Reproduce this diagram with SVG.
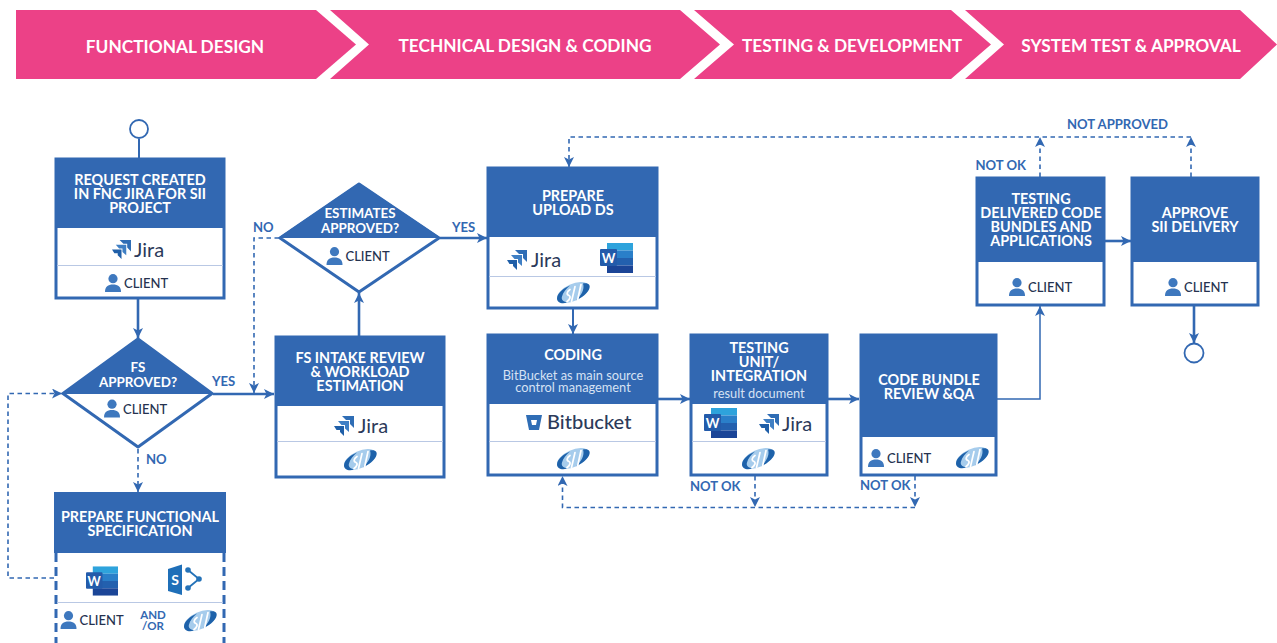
<svg xmlns="http://www.w3.org/2000/svg" xmlns:xlink="http://www.w3.org/1999/xlink" width="1277" height="643" viewBox="0 0 1277 643">
<style>
text{font-family:Lato,"Noto Sans","Liberation Sans",sans-serif}
.banner{fill:#EC4187}
.bt{fill:#fff;font-weight:700;font-size:17.300px;text-anchor:middle}
.h{fill:#3268B2}
.box{fill:#fff;stroke:#3268B2;stroke-width:3}
.div{stroke:#B9C8E4;stroke-width:1.2;fill:none}
.t{fill:#fff;font-weight:700;font-size:14.400px;text-anchor:middle}
.d{font-size:13.400px}
.s{fill:#D6E2F4;font-weight:400;font-size:12.800px;text-anchor:middle}
.c{fill:#25324F;font-weight:500;font-size:13px}
.l{fill:#3268B2;font-weight:700;font-size:13.100px}
.a{font-size:11.500px;text-anchor:middle}
.logo{fill:#2C3A5A;font-weight:400;font-size:20px}
.con{fill:none;stroke:#3268B2;stroke-width:2}
.dash{stroke-width:1.6;stroke-dasharray:4.5 3.5}
.thick{stroke-width:2.6}
.thin{stroke-width:1.500}
.side{stroke-width:3;stroke-dasharray:9 5}
.term{fill:#fff;stroke:#3268B2;stroke-width:1.8}
</style>
<defs>
<marker id="arr" markerUnits="userSpaceOnUse" markerWidth="12" markerHeight="12" refX="10" refY="5" orient="auto"><path d="M0 0L10 5L0 10L2.5 5Z" fill="#3268B2"/></marker>
<symbol id="person" viewBox="0 0 16 18" overflow="visible"><circle cx="8" cy="4.7" r="4.6" fill="#3E78BE"/><path d="M0 18C0 12.500 3 10.500 8 10.500S16 12.500 16 18Z" fill="#3E78BE"/></symbol>
<symbol id="jiram" viewBox="0 0 20 20" overflow="visible"><path d="M8 0H20V12L16 8V4H12Z" fill="#2F6DB5"/><path d="M4 5H15V16L11 12.500V9H7.500Z" fill="#3F7FC4"/><path d="M0 10H10V20L6 16V14H2.500Z" fill="#1F5FA8"/></symbol>
<symbol id="word" viewBox="0 0 33 30" overflow="visible"><rect x="7" y="0" width="26" height="7.500" fill="#2EA3DC"/><rect x="7" y="7.500" width="26" height="7.500" fill="#2A7FC9"/><rect x="7" y="15" width="26" height="7.500" fill="#2360AE"/><rect x="7" y="22.500" width="26" height="7.500" fill="#1B4597"/><rect x="0" y="6" width="17" height="17" rx="1" fill="#235BAA"/><text x="8.500" y="20" font-size="13" font-weight="700" fill="#fff" text-anchor="middle">W</text></symbol>
<symbol id="sii" viewBox="0 0 34 22" overflow="visible"><ellipse cx="17" cy="11" rx="17" ry="8.500" transform="rotate(-24 17 11)" fill="#A6CCEC"/><path d="M14 4C7 7 1 12 1 17C1 21 6 23 11 21C7 20 5 18 6 15C7 11 10 7 14 4Z" fill="#1E62AA"/><path d="M27 2C33 1 35 4 33 8C31 12 26 16 20 19C25 14 29 8 27 2Z" fill="#1E62AA"/><path d="M14 8C11 10 10 13 13 14C15 15 14 18 11 20M19 5L15.500 20M25 3L21.500 19" fill="none" stroke="#fff" stroke-width="1.700" stroke-linecap="round"/></symbol>
<symbol id="client" viewBox="0 0 64 18" overflow="visible"><use xlink:href="#person" href="#person" width="16" height="18"/><text class="c" x="19" y="14">CLIENT</text></symbol>
</defs>

<g id="phases">
<path class="banner" d="M16 10H316L356 44.500L316 79H16Z"/>
<path class="banner" d="M330 10H680L720 44.500L680 79H330L369 44.500Z"/>
<path class="banner" d="M694 10H951L991 44.500L951 79H694L734 44.500Z"/>
<path class="banner" d="M965 10H1240L1277 44.500L1240 79H965L1004 44.500Z"/>
<text class="bt" x="175" y="53">FUNCTIONAL DESIGN</text>
<text class="bt" x="525" y="52">TECHNICAL DESIGN &amp; CODING</text>
<text class="bt" x="852" y="52">TESTING &amp; DEVELOPMENT</text>
<text class="bt" x="1131" y="52">SYSTEM TEST &amp; APPROVAL</text>
</g>

<g id="connectors">
<path class="con" d="M139 139V158"/>
<path class="con thick" d="M138 299V338" marker-end="url(#arr)"/>
<path class="con thick" d="M213 394H274" marker-end="url(#arr)"/>
<path class="con dash" d="M138 449V492" marker-end="url(#arr)"/>
<path class="con dash" d="M54 578H8V393.500H62" marker-end="url(#arr)"/>
<path class="con thick" d="M359 336V293" marker-end="url(#arr)"/>
<path class="con dash" d="M279 238H254V393" marker-end="url(#arr)"/>
<path class="con thick" d="M440 238H487" marker-end="url(#arr)"/>
<path class="con" d="M573 309V334" marker-end="url(#arr)"/>
<path class="con thick" d="M658 399H690" marker-end="url(#arr)"/>
<path class="con thick" d="M828 399H859" marker-end="url(#arr)"/>
<path class="con thin" d="M997 399H1040V306" marker-end="url(#arr)"/>
<path class="con thick" d="M1105 241H1131" marker-end="url(#arr)"/>
<path class="con thick" d="M1194 306V343" marker-end="url(#arr)"/>
<path class="con dash" d="M755 476V507" marker-end="url(#arr)"/>
<path class="con dash" d="M915 476V507" marker-end="url(#arr)"/>
<path class="con dash" d="M915 507.500H562.500V476" marker-end="url(#arr)"/>
<path class="con dash" d="M1040 177V137" marker-end="url(#arr)"/>
<path class="con dash" d="M1191 177V137" marker-end="url(#arr)"/>
<path class="con dash" d="M1191 137H569V167" marker-end="url(#arr)"/>
<text class="l" x="212" y="386">YES</text>
<text class="l" x="146" y="464">NO</text>
<text class="l" x="253" y="232">NO</text>
<text class="l" x="452" y="232">YES</text>
<text class="l" x="690" y="491">NOT OK</text>
<text class="l" x="860" y="490">NOT OK</text>
<text class="l" x="975.500" y="170">NOT OK</text>
<text class="l" x="1067" y="128.500">NOT APPROVED</text>
</g>

<g id="start"><circle class="term" cx="139" cy="129" r="9"/></g>
<g id="end"><circle class="term" cx="1194" cy="353" r="9.500"/></g>

<g id="request">
<rect class="box" x="56" y="159" width="168" height="139"/>
<rect class="h" x="55" y="158" width="170" height="70"/>
<path class="div" d="M57 265.500H223"/>
<text class="t" y="185"><tspan x="140">REQUEST CREATED</tspan><tspan x="140" dy="14">IN FNC JIRA FOR SII</tspan><tspan x="140" dy="14">PROJECT</tspan></text>
<use href="#jiram" x="112" y="240" width="19" height="19"/>
<text class="logo" x="134" y="257">Jira</text>
<use href="#client" x="105" y="274" width="64" height="18"/>
</g>

<g id="fs-approved">
<path d="M138 339L212 393.500L138 447L63 393.500Z" fill="#fff" stroke="#3268B2" stroke-width="3" stroke-linejoin="round"/>
<path class="h" d="M138 338L213 394H62Z"/>
<text class="t d" y="372"><tspan x="138">FS</tspan><tspan x="138" dy="14.500">APPROVED?</tspan></text>
<use href="#client" x="104" y="399.500" width="64" height="18"/>
</g>

<g id="prepare-fs">
<path class="con side" d="M56 553V643M224 553V643"/>
<rect class="h" x="54" y="492" width="172" height="61"/>
<path class="div" d="M57 602.500H223"/>
<text class="t" y="522"><tspan x="140">PREPARE FUNCTIONAL</tspan><tspan x="140" dy="14">SPECIFICATION</tspan></text>
<use href="#word" x="86" y="566" width="32" height="30"/>
<path d="M168 569L182 564.500V595L168 591Z" fill="#1F6FB8"/>
<text x="175" y="585" font-size="14" font-weight="700" fill="#fff" text-anchor="middle">S</text>
<path d="M188 570L199 579L188 588" fill="none" stroke="#2472B8" stroke-width="1.800"/>
<circle cx="188" cy="570" r="2.800" fill="#2472B8"/><circle cx="199" cy="579" r="2.800" fill="#2472B8"/><circle cx="188" cy="588" r="2.800" fill="#2472B8"/>
<use href="#client" x="60.500" y="611" width="64" height="18"/>
<text class="l a" y="619"><tspan x="153">AND</tspan><tspan x="153" dy="11">/OR</tspan></text>
<use href="#sii" x="183" y="609" width="34" height="23"/>
</g>

<g id="intake">
<rect class="box" x="276" y="337" width="168" height="140"/>
<rect class="h" x="275" y="336" width="170" height="70"/>
<path class="div" d="M277 441.500H443"/>
<text class="t" y="362.500"><tspan x="360">FS INTAKE REVIEW</tspan><tspan x="360" dy="14">&amp; WORKLOAD</tspan><tspan x="360" dy="14">ESTIMATION</tspan></text>
<use href="#jiram" x="334" y="416" width="20" height="20"/>
<text class="logo" x="358" y="433">Jira</text>
<use href="#sii" x="343" y="448" width="34" height="23"/>
</g>

<g id="estimates">
<path d="M359 184L439 238L359 292L280 238Z" fill="#fff" stroke="#3268B2" stroke-width="3" stroke-linejoin="round"/>
<path class="h" d="M359 183L441 238H278Z"/>
<text class="t d" y="218"><tspan x="360">ESTIMATES</tspan><tspan x="360" dy="15">APPROVED?</tspan></text>
<use href="#client" x="326.500" y="247" width="64" height="18"/>
</g>

<g id="upload">
<rect class="box" x="488" y="168" width="169" height="140"/>
<rect class="h" x="487" y="167" width="171" height="70"/>
<path class="div" d="M489 276.500H656"/>
<text class="t" y="200.500"><tspan x="573">PREPARE</tspan><tspan x="573" dy="14">UPLOAD DS</tspan></text>
<use href="#jiram" x="507" y="250" width="20" height="20"/>
<text class="logo" x="531" y="267">Jira</text>
<use href="#word" x="600" y="243" width="33" height="30"/>
<use href="#sii" x="556" y="281" width="34" height="23"/>
</g>

<g id="coding">
<rect class="box" x="488" y="335" width="169" height="140"/>
<rect class="h" x="487" y="334" width="171" height="70"/>
<path class="div" d="M489 441.500H656"/>
<text class="t" x="573" y="359.500">CODING</text>
<text class="s" y="380"><tspan x="573">BitBucket as main source</tspan><tspan x="573" dy="11.500">control management</tspan></text>
<path d="M526 415H542L539 430H529Z" fill="#2F6DB5"/><path d="M531 420H537L536 425H532Z" fill="#fff"/>
<text class="logo" x="547" y="429" style="font-weight:500">Bitbucket</text>
<use href="#sii" x="556" y="447" width="34" height="23"/>
</g>

<g id="testing-unit">
<rect class="box" x="691" y="335" width="136" height="140"/>
<rect class="h" x="690" y="334" width="138" height="70"/>
<path class="div" d="M692 441.500H826"/>
<text class="t" y="352.500"><tspan x="759">TESTING</tspan><tspan x="759" dy="14">UNIT/</tspan><tspan x="759" dy="14.500">INTEGRATION</tspan></text>
<text class="s" x="759" y="398">result document</text>
<use href="#word" x="704" y="408" width="33" height="30"/>
<use href="#jiram" x="759" y="414" width="20" height="20"/>
<text class="logo" x="782" y="431">Jira</text>
<use href="#sii" x="741" y="447" width="34" height="23"/>
</g>

<g id="code-bundle">
<rect class="box" x="861" y="335" width="135" height="140"/>
<rect class="h" x="860" y="334" width="137" height="103"/>
<text class="t" y="384.500"><tspan x="929">CODE BUNDLE</tspan><tspan x="929" dy="14">REVIEW &amp;QA</tspan></text>
<use href="#client" x="868" y="449" width="64" height="18"/>
<use href="#sii" x="955" y="446" width="34" height="23"/>
</g>

<g id="testing-delivered">
<rect class="box" x="977" y="178" width="127" height="127"/>
<rect class="h" x="976" y="177" width="129" height="85"/>
<text class="t" y="203.500"><tspan x="1041">TESTING</tspan><tspan x="1041" dy="14">DELIVERED CODE</tspan><tspan x="1041" dy="14">BUNDLES AND</tspan><tspan x="1041" dy="14">APPLICATIONS</tspan></text>
<use href="#client" x="1009" y="278" width="64" height="18"/>
</g>

<g id="approve">
<rect class="box" x="1132" y="178" width="126" height="127"/>
<rect class="h" x="1131" y="177" width="128" height="85"/>
<text class="t" y="218"><tspan x="1195">APPROVE</tspan><tspan x="1195" dy="14">SII DELIVERY</tspan></text>
<use href="#client" x="1165" y="278" width="64" height="18"/>
</g>
</svg>
